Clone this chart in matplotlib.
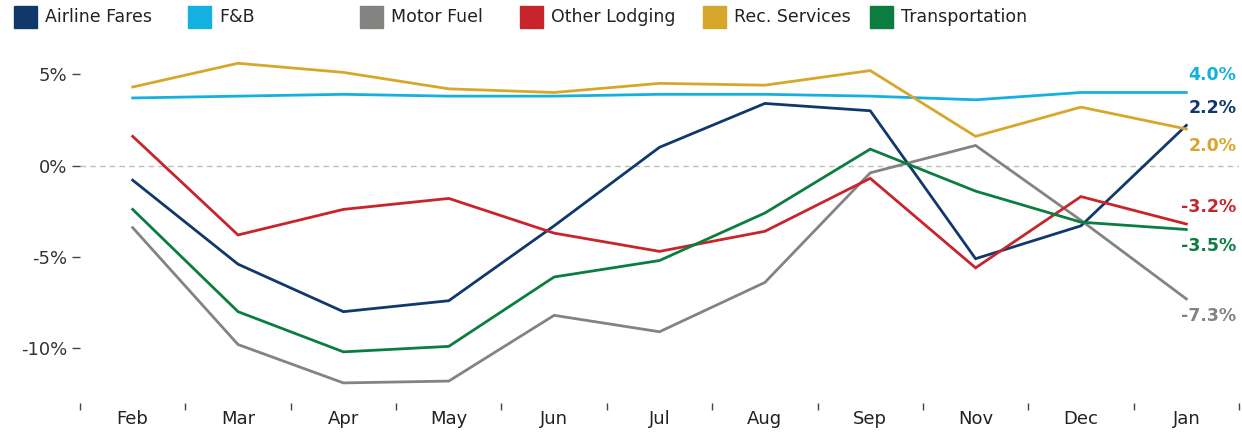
import matplotlib
matplotlib.use("Agg")
import matplotlib.pyplot as plt
from matplotlib.patches import Rectangle
from matplotlib.ticker import FixedLocator

months = ["Feb", "Mar", "Apr", "May", "Jun", "Jul", "Aug", "Sep", "Nov", "Dec", "Jan"]

airline_fares = [-0.8, -5.4, -8.0, -7.4, -3.3, 1.0, 3.4, 3.0, -5.1, -3.3, 2.2]
fnb = [3.7, 3.8, 3.9, 3.8, 3.8, 3.9, 3.9, 3.8, 3.6, 4.0, 4.0]
motor_fuel = [-3.4, -9.8, -11.9, -11.8, -8.2, -9.1, -6.4, -0.4, 1.1, -3.0, -7.3]
other_lodging = [1.6, -3.8, -2.4, -1.8, -3.7, -4.7, -3.6, -0.7, -5.6, -1.7, -3.2]
rec_services = [4.3, 5.6, 5.1, 4.2, 4.0, 4.5, 4.4, 5.2, 1.6, 3.2, 2.0]
transportation = [-2.4, -8.0, -10.2, -9.9, -6.1, -5.2, -2.6, 0.9, -1.4, -3.1, -3.5]

series = [
    ("Airline Fares", airline_fares, "#10386b", 17),
    ("F&B", fnb, "#14b1e0", 17),
    ("Motor Fuel", motor_fuel, "#838381", -17),
    ("Other Lodging", other_lodging, "#c8242c", 17),
    ("Rec. Services", rec_services, "#d6a72a", -17),
    ("Transportation", transportation, "#0b7d41", -17),
]

W, H = 1242, 432
fig = plt.figure(figsize=(W / 100, H / 100), dpi=100)
ax = fig.add_axes([80 / W, 1 - 403 / H, (1239 - 80) / W, (403 - 45) / H])

x = list(range(len(months)))
ax.axhline(0, color="#bdbdbd", lw=1.0, ls=(0, (4, 3)), zorder=1)

for name, vals, color, off in series:
    ax.plot(x, vals, color=color, lw=2.0, zorder=3, solid_joinstyle="miter")
    ax.annotate(f"{vals[-1]:.1f}%", xy=(x[-1], vals[-1]), xytext=(50, off),
                textcoords="offset pixels", ha="right", va="center",
                color=color, fontsize=12.5, fontweight="bold")

ax.set_xlim(-0.5, len(months) - 0.5)
ax.set_ylim(-13, 6.6)

ax.set_yticks([-10, -5, 0, 5])
ax.set_yticklabels(["-10%", "-5%", "0%", "5%"])
ax.set_xticks(x)
ax.set_xticklabels(months)
ax.xaxis.set_minor_locator(FixedLocator([i - 0.5 for i in range(len(months) + 1)]))

ax.tick_params(axis="y", length=6, width=1, color="#444444", pad=3,
               labelsize=13, labelcolor="#333333")
ax.tick_params(axis="x", which="major", length=0, pad=5, labelsize=13,
               labelcolor="#222222")
ax.tick_params(axis="x", which="minor", length=5, width=1, color="#444444")

for s in ax.spines.values():
    s.set_visible(False)
ax.patch.set_alpha(0)

# legend row across the top
legend_x = [14, 188, 360, 520, 703, 870]
for (name, vals, color, off), lx in zip(series, legend_x):
    fig.patches.append(Rectangle((lx / W, 1 - 28 / H), 23 / W, 22 / H,
                                 transform=fig.transFigure, color=color))
    fig.text((lx + 31) / W, 1 - 17 / H, name, fontsize=12.5, color="#222222",
             va="center", ha="left")

fig.savefig("out.png", dpi=100)
